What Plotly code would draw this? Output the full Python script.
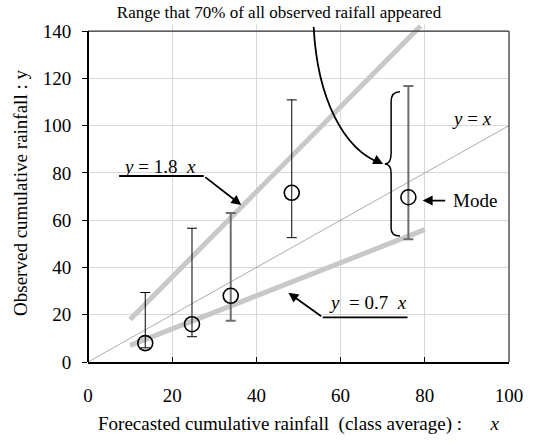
import plotly.graph_objects as go

# ---- data ----
class_avg = [13.6, 24.7, 33.9, 48.4, 76.1]          # forecasted class average (x)
mode_obs = [8, 16, 28, 71.6, 69.7]                    # observed mode (y)
range_low = [6, 10.7, 17.4, 52.6, 51.9]               # lower end of 70% range
range_high = [29.4, 56.6, 63.0, 110.9, 116.8]         # upper end of 70% range
bar_gray = [False, False, True, False, True]          # error bar style group

upper_x = [10, 79]
upper_y = [18, 142.2]      # y = 1.8 x
lower_x = [10, 80]
lower_y = [7, 56]          # y = 0.7 x
diag_x = [0, 100]
diag_y = [0, 100]          # y = x

x_ticks = [0, 20, 40, 60, 80, 100]
y_ticks = [0, 20, 40, 60, 80, 100, 120, 140]

FONT = "Liberation Serif"

fig = go.Figure()

# reference lines
fig.add_trace(go.Scatter(x=upper_x, y=upper_y, mode="lines",
                         line=dict(color="#c8c8c8", width=5), hoverinfo="skip"))
fig.add_trace(go.Scatter(x=lower_x, y=lower_y, mode="lines",
                         line=dict(color="#c8c8c8", width=5), hoverinfo="skip"))
fig.add_trace(go.Scatter(x=diag_x, y=diag_y, mode="lines",
                         line=dict(color="#8a8a8a", width=0.7), hoverinfo="skip"))

# error bars in two styles
for gray in (False, True):
    idx = [i for i, g in enumerate(bar_gray) if g == gray]
    xs = [class_avg[i] for i in idx]
    ys = [mode_obs[i] for i in idx]
    up = [range_high[i] - mode_obs[i] for i in idx]
    dn = [mode_obs[i] - range_low[i] for i in idx]
    fig.add_trace(go.Scatter(
        x=xs, y=ys, mode="markers", marker=dict(size=1, opacity=0),
        error_y=dict(type="data", array=up, arrayminus=dn, symmetric=False,
                     color="#6e6e6e" if gray else "#000000",
                     thickness=2 if gray else 1, width=5),
        hoverinfo="skip"))

# mode markers
fig.add_trace(go.Scatter(x=class_avg, y=mode_obs, mode="markers",
                         marker=dict(symbol="circle-open", size=15,
                                     color="#000000", line=dict(width=1.6)),
                         hoverinfo="skip"))

shapes = []
# frame
shapes.append(dict(type="line", xref="x", yref="y", x0=0, x1=100, y0=140, y1=140,
                   line=dict(color="#333333", width=1.2), layer="above"))
shapes.append(dict(type="line", xref="paper", yref="y", x0=1, x1=1, y0=0, y1=140,
                   line=dict(color="#555555", width=1.5), layer="above"))
shapes.append(dict(type="line", xref="paper", yref="y", x0=0, x1=0, y0=0, y1=140,
                   line=dict(color="#000000", width=2), layer="above"))
# curved arrow from title to brace
shapes.append(dict(type="path", xref="x", yref="y",
                   path="M 53.6,141.7 C 54.5,110.8 60.9,89.6 69.6,84.0",
                   line=dict(color="#000000", width=1.8), layer="above"))
# brace
shapes.append(dict(type="path", xref="x", yref="y",
                   path=("M 74.1,114.3 Q 72,114.3 72,110.1 L 72,88.3 "
                         "Q 72,83.8 70.5,83.8 Q 72,83.8 72,79.8 L 72,56.6 "
                         "Q 72,53.3 74.1,53.3"),
                   line=dict(color="#000000", width=1.5), layer="above"))
# underlines for equation labels
shapes.append(dict(type="line", xref="x", yref="y", x0=7.4, x1=27.5, y0=78.7, y1=78.7,
                   line=dict(color="#000000", width=1.8), layer="above"))
shapes.append(dict(type="line", xref="x", yref="y", x0=55.75, x1=75.9, y0=18.9, y1=18.9,
                   line=dict(color="#000000", width=1.8), layer="above"))

annotations = []
txtfont = dict(family=FONT, size=19, color="#000000")


def arrow(tip, tail):
    return dict(x=tip[0], y=tip[1], ax=tail[0], ay=tail[1], xref="x", yref="y",
                axref="x", ayref="y", text="", showarrow=True, arrowhead=2,
                arrowsize=1.1, arrowwidth=1.8, arrowcolor="#000000", standoff=0)


annotations.append(arrow((36.4, 66.4), (27.5, 78.7)))
annotations.append(arrow((47.6, 29.3), (55.75, 18.9)))
annotations.append(arrow((79.5, 68.3), (85.2, 68.3)))
annotations.append(arrow((70.1, 83.8), (68.2, 85.5)))

annotations.append(dict(x=17.05, y=82.6, xref="x", yref="y",
                        text="<i>y</i>\u00a0=\u00a01.8\u00a0\u00a0<i>x</i>",
                        showarrow=False, font=txtfont))
annotations.append(dict(x=66.4, y=25.0, xref="x", yref="y",
                        text="<i>y</i>\u00a0\u00a0=\u00a00.7\u00a0\u00a0<i>x</i>",
                        showarrow=False, font=txtfont))
annotations.append(dict(x=91.3, y=103.1, xref="x", yref="y",
                        text="<i>y</i>\u00a0=\u00a0<i>x</i>",
                        showarrow=False, font=txtfont))
annotations.append(dict(x=92.0, y=68.2, xref="x", yref="y", text="Mode",
                        showarrow=False, font=txtfont))

fig.update_layout(
    width=535, height=446,
    margin=dict(l=88, r=16, t=24, b=84),
    paper_bgcolor="white", plot_bgcolor="white",
    showlegend=False,
    title=dict(text="Range that 70% of all observed raifall appeared",
               font=dict(family=FONT, size=17, color="#000000"),
               x=279 / 535, xref="container", xanchor="center",
               y=1 - 12.5 / 446, yref="container", yanchor="middle"),
    font=dict(family=FONT, color="#000000"),
    xaxis=dict(range=[0, 100], tickvals=x_ticks, ticks="inside", ticklen=5,
               tickcolor="#000000", tickwidth=1.2,
               showgrid=True, gridcolor="#d9d9d9", gridwidth=1, zeroline=False,
               showline=True, linecolor="#000000", linewidth=2,
               tickfont=dict(family=FONT, size=19, color="#000000"),
               ticklabelstandoff=15,
               title=dict(text="Forecasted cumulative rainfall\u00a0\u00a0(class average)\u00a0:\u00a0\u00a0\u00a0\u00a0\u00a0\u00a0<i>x</i>",
                          font=dict(family=FONT, size=19, color="#000000"),
                          standoff=12)),
    yaxis=dict(range=[0, 143], tickvals=y_ticks, ticks="outside", ticklen=5,
               tickcolor="#000000", tickwidth=1.2,
               showgrid=True, gridcolor="#d9d9d9", gridwidth=1, zeroline=False,
               showline=False,
               tickfont=dict(family=FONT, size=19, color="#000000"),
               ticklabelstandoff=7,
               title=dict(text="Observed cumulative rainfall\u00a0: y",
                          font=dict(family=FONT, size=19, color="#000000"),
                          standoff=10)),
    shapes=shapes,
    annotations=annotations,
)

fig.write_html("out.html")
